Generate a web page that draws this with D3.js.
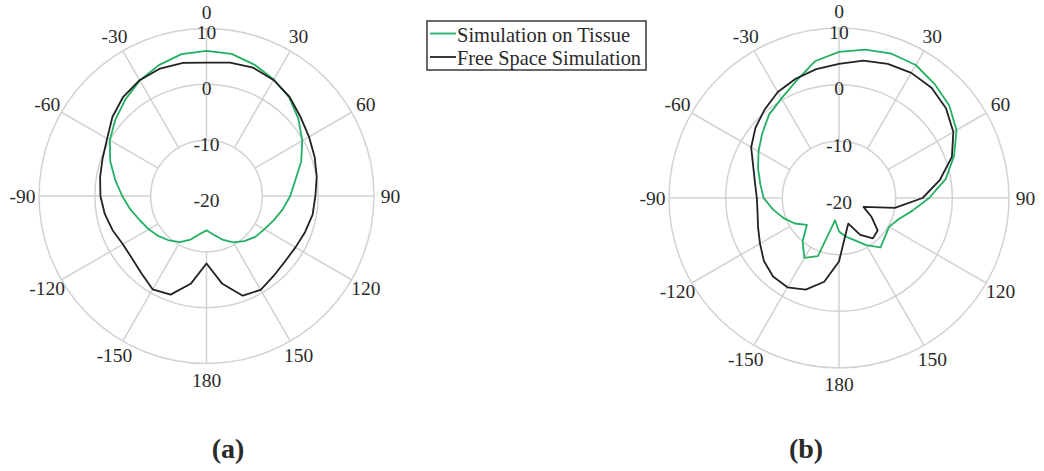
<!DOCTYPE html>
<html>
<head>
<meta charset="utf-8">
<script src="https://cdn.jsdelivr.net/npm/d3@7"></script>
<style>
  html, body { margin: 0; padding: 0; background: #fff; }
  svg { display: block; }
  text { font-family: "Liberation Serif", "Times New Roman", serif; fill: #2a2a2a; }
</style>
</head>
<body>
<svg id="chart" width="1044" height="471"></svg>
<script>
// ---- data (angle in degrees, gain in dB) ----
const angles = [0,10,20,30,40,50,60,70,80,90,100,110,120,130,140,150,160,170,180,
                -170,-160,-150,-140,-130,-120,-110,-100,-90,-80,-70,-60,-50,-40,-30,-20,-10];

// (a)
const tissueA = [6.0,5.85,5.05,4.1,3.05,1.5,-0.2,-1.95,-3.85,-5.0,-6.15,-7.2,-8.05,-8.6,-9.45,-10.4,-11.7,-13.0,-13.85,
                 -13.1,-11.7,-10.45,-9.6,-8.8,-8.05,-7.3,-6.15,-4.9,-3.4,-1.65,0.0,1.3,2.6,3.9,4.95,5.8];
const freeA   = [3.9,4.25,4.45,4.0,3.15,2.0,1.2,0.6,0.05,-0.5,-0.7,-1.2,-1.6,-1.7,-1.3,-0.6,-1.0,-4.1,-7.9,
                 -4.1,-1.2,-0.7,-1.9,-2.6,-2.7,-2.1,-1.5,-1.0,-0.65,-0.2,0.55,2.0,3.2,3.95,4.3,4.2];
// (b)
const tissueB = [5.8,6.6,7.1,7.1,6.25,5.4,3.95,1.6,-0.9,-4.1,-6.9,-8.9,-9.8,-9.4,-8.6,-10.4,-12.1,-13.1,-14.1,
                 -16.0,-9.1,-7.8,-10.0,-12.6,-11.0,-9.6,-8.2,-6.7,-5.9,-4.8,-3.6,-2.3,-0.8,0.3,2.0,4.5];
const freeB   = [3.65,4.6,5.2,5.5,5.4,4.65,3.3,1.2,-1.95,-5.25,-10.0,-15.4,-13.4,-11.1,-10.7,-12.5,-15.2,-13.4,-8.8,
                 -5.0,-2.8,-1.8,-1.9,-2.7,-3.9,-4.8,-5.4,-5.5,-4.95,-3.9,-2.1,-0.75,0.4,1.6,2.4,3.1];

const angleTicks  = [0,30,60,90,120,150,180,-150,-120,-90,-60,-30];
const radialTicks = [-20,-10,0,10];
const radialDomain = [-20, 10];

const seriesNames  = ["Simulation on Tissue", "Free Space Simulation"];
const seriesColors = ["#23b062", "#222222"];

// ---- drawing ----
const svg = d3.select("#chart");
const toRad = d => d * Math.PI / 180;

function polar(cx, cy, R, tissue, free) {
  const g = svg.append("g").attr("transform", `translate(${cx},${cy})`);
  const r = d3.scaleLinear().domain(radialDomain).range([0, R]);

  // rings (skip the centre value)
  g.selectAll("circle.ring").data(radialTicks.slice(1)).join("circle")
    .attr("class", "ring").attr("r", d => r(d))
    .attr("fill", "none").attr("stroke", "#d2d2d2").attr("stroke-width", 1.5);

  // spokes from the -10 ring to the outer ring
  g.selectAll("line.spoke").data(angleTicks).join("line")
    .attr("class", "spoke")
    .attr("x1", d => r(radialTicks[1]) * Math.sin(toRad(d)))
    .attr("y1", d => -r(radialTicks[1]) * Math.cos(toRad(d)))
    .attr("x2", d => r(radialDomain[1]) * Math.sin(toRad(d)))
    .attr("y2", d => -r(radialDomain[1]) * Math.cos(toRad(d)))
    .attr("stroke", "#d2d2d2").attr("stroke-width", 1.5);

  // angle labels
  const lr = R + 16.5;
  g.selectAll("text.ang").data(angleTicks).join("text")
    .attr("class", "ang")
    .attr("x", d => lr * Math.sin(toRad(d)))
    .attr("y", d => -lr * Math.cos(toRad(d)))
    .attr("text-anchor", "middle").attr("dominant-baseline", "central")
    .attr("font-size", 19.5)
    .text(d => d);

  // radial labels
  g.selectAll("text.rad").data(radialTicks).join("text")
    .attr("class", "rad")
    .attr("x", 0)
    .attr("y", d => -r(d) + 4)
    .attr("text-anchor", "middle").attr("dominant-baseline", "central")
    .attr("font-size", 19.5)
    .text(d => d);

  const line = d3.lineRadial()
    .angle((d, i) => toRad(angles[i]))
    .radius(d => r(d))
    .curve(d3.curveLinearClosed);

  [tissue, free].forEach((vals, k) => {
    g.append("path").datum(vals)
      .attr("d", line)
      .attr("fill", "none")
      .attr("stroke", seriesColors[k])
      .attr("stroke-width", 1.8)
      .attr("stroke-linejoin", "round");
  });
}

polar(206.5, 196, 167.5, tissueA, freeA);
polar(839, 198, 170, tissueB, freeB);

// legend
const lg = svg.append("g");
lg.append("rect").attr("x", 427).attr("y", 21).attr("width", 219).attr("height", 49)
  .attr("fill", "#fff").attr("stroke", "#444").attr("stroke-width", 1.6);
seriesNames.forEach((name, i) => {
  const y = 33.5 + i * 23.5;
  lg.append("line").attr("x1", 430).attr("x2", 456).attr("y1", y).attr("y2", y)
    .attr("stroke", seriesColors[i]).attr("stroke-width", 1.8);
  lg.append("text").attr("x", 457).attr("y", y + 8)
    .attr("font-size", 21)
    .attr("textLength", i === 0 ? 173 : 184).attr("lengthAdjust", "spacingAndGlyphs")
    .text(name);
});

// captions
const captions = [["(a)", 228], ["(b)", 806]];
svg.selectAll("text.cap").data(captions).join("text")
  .attr("class", "cap")
  .attr("x", d => d[1]).attr("y", 458)
  .attr("text-anchor", "middle")
  .attr("font-size", 28).attr("font-weight", "bold")
  .attr("fill", "#000")
  .text(d => d[0]);
</script>
</body>
</html>
